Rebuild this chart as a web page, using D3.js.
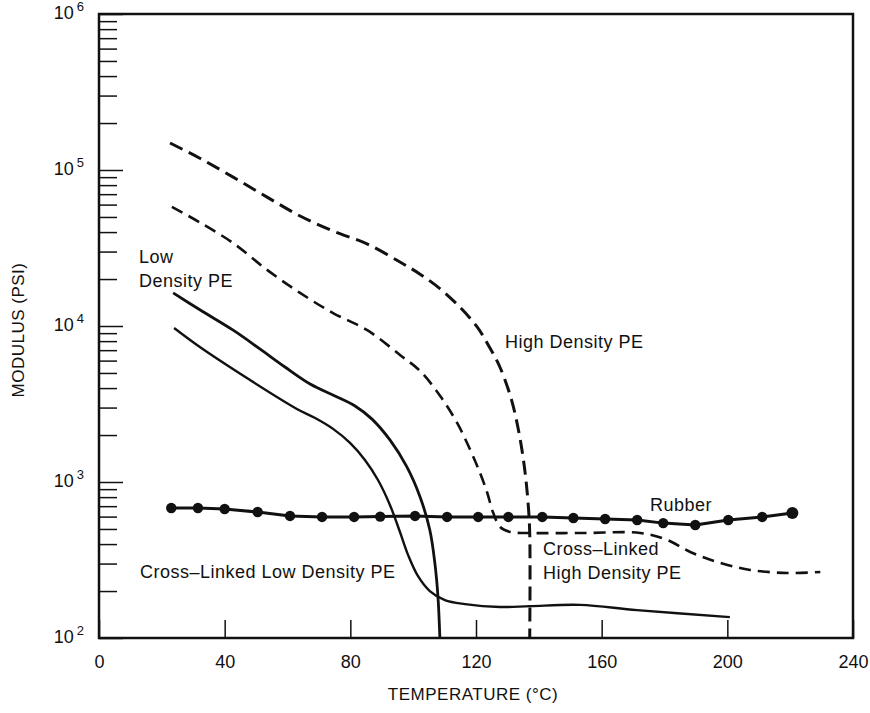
<!DOCTYPE html>
<html>
<head>
<meta charset="utf-8">
<script src="https://cdn.jsdelivr.net/npm/d3@7"></script>
<style>
  body { margin: 0; background: #fff; }
  svg { font-family: "Liberation Sans", Arial, sans-serif; }
  .label { font-size: 18px; letter-spacing: 0.5px; fill: #111; }
</style>
</head>
<body>
<svg id="chart"></svg>
<script>
// Data (temperature in deg C, modulus in psi)
var hdpeTemp = [22.6, 32.1, 42.7, 53.5, 64, 74.5, 85.3, 95.8, 102.2, 108.6, 114.9, 120.3, 123.5, 127.6, 131.3, 133.7, 135.4, 136.5, 137.1, 137.1];
var hdpeMod = [1.49e5, 1.19e5, 9.0e4, 6.7e4, 5.07e4, 4.06e4, 3.36e4, 2.57e4, 2.15e4, 1.73e4, 1.32e4, 9.9e3, 7.8e3, 5.46e3, 3.36e3, 2.06e3, 1.25e3, 768, 471, 100];

var xlHdpeTemp = [23.2, 32.2, 42.7, 53.5, 64, 74.5, 85.4, 95.9, 102.2, 108.6, 114, 118.2, 121.3, 123.6, 125.5, 127.7, 130.9, 136.3, 154, 172.3, 180.9, 188.2, 196.8, 207.3, 219.1, 229.6];
var xlHdpeMod = [5.8e4, 4.6e4, 3.4e4, 2.29e4, 1.63e4, 1.21e4, 9.4e3, 6.5e3, 5.15e3, 3.56e3, 2.39e3, 1.6e3, 1.14e3, 850, 632, 515, 478, 471, 471, 471, 425, 356, 307, 273, 261, 265];

var ldpeTemp = [23.6, 32.1, 42.7, 51.2, 59.2, 67.2, 75.1, 81.5, 86.9, 92.6, 98, 102.2, 105.3, 106.9, 107.9, 108.5];
var ldpeMod = [1.63e4, 1.27e4, 9.4e3, 7.13e3, 5.46e3, 4.25e3, 3.56e3, 3.07e3, 2.53e3, 1.86e3, 1.25e3, 802, 492, 303, 183, 100];

var xlLdpeTemp = [23.9, 32.1, 48.1, 63, 68.8, 74.5, 79.9, 84.7, 88.8, 92.6, 95.8, 98.4, 101.5, 105.3, 110.1, 116.5, 127.6, 137.2, 153.1, 171.2, 200.8];
var xlLdpeMod = [9.7e3, 7.33e3, 4.5e3, 2.94e3, 2.57e3, 2.19e3, 1.78e3, 1.38e3, 1.03e3, 713, 478, 340, 250, 200, 175, 165, 158, 160, 163, 151, 136];

var rubberTemp = [23, 31.5, 40, 50.5, 60.8, 71, 81.2, 89.5, 100.6, 110.8, 120.7, 130.3, 141.1, 151, 161.1, 171.3, 179.6, 189.8, 200.3, 211.1, 220.7];
var rubberMod = [681, 681, 671, 642, 606, 597, 597, 600, 606, 597, 597, 597, 597, 588, 579, 571, 545, 530, 571, 597, 632];

var xTicks = [0, 40, 80, 120, 160, 200, 240];
var yDecades = [1e2, 1e3, 1e4, 1e5, 1e6];

// SVG size params
var width = 870, height = 713;
var margin = {top: 14, right: 17, bottom: 75, left: 99};

var svg = d3.select("#chart")
    .attr("width", width)
    .attr("height", height);

// Scales
var x = d3.scaleLinear().domain([0, 240]).range([margin.left, width - margin.right]);
var y = d3.scaleLog().domain([1e2, 1e6]).range([height - margin.bottom, margin.top]);

// Minor y ticks 2..9 in each decade
var yMinor = [];
yDecades.slice(0, -1).forEach(function(d) {
  d3.range(2, 10).forEach(function(k) { yMinor.push(d * k); });
});

// Frame
svg.append("rect")
    .attr("x", x(0)).attr("y", y(1e6))
    .attr("width", x(240) - x(0)).attr("height", y(1e2) - y(1e6))
    .attr("fill", "none").attr("stroke", "#111").attr("stroke-width", 2.5);

// X axis, ticks pointing in
var gx = svg.append("g")
    .attr("transform", "translate(0," + y(1e2) + ")")
    .call(d3.axisBottom(x).tickValues(xTicks).tickSize(-18).tickPadding(17));
gx.select(".domain").remove();
gx.selectAll(".tick line").attr("stroke", "#111").attr("stroke-width", 1.5);
gx.selectAll(".tick text").attr("font-size", 18).attr("fill", "#111")
    .attr("font-family", "Liberation Sans, Arial, sans-serif");

// Y axis minor ticks
var gyMinor = svg.append("g")
    .attr("transform", "translate(" + x(0) + ",0)")
    .call(d3.axisLeft(y).tickValues(yMinor).tickSize(-18).tickFormat(""));
gyMinor.select(".domain").remove();
gyMinor.selectAll(".tick line").attr("stroke", "#111").attr("stroke-width", 1.5);

// Y axis decades with 10^n labels
var gy = svg.append("g")
    .attr("transform", "translate(" + x(0) + ",0)")
    .call(d3.axisLeft(y).tickValues(yDecades).tickSize(-24).tickPadding(15));
gy.select(".domain").remove();
gy.selectAll(".tick line").attr("stroke", "#111").attr("stroke-width", 1.5);
gy.selectAll(".tick text")
    .attr("font-family", "Liberation Sans, Arial, sans-serif")
    .attr("fill", "#111")
    .attr("dy", "0.42em")
    .each(function(d) {
      var t = d3.select(this).text(null);
      t.append("tspan").attr("font-size", 18).text("10");
      t.append("tspan").attr("font-size", 13).attr("dx", 3).attr("dy", "-0.6em")
        .text(Math.round(Math.log10(d)));
    });

// Line generators
function pts(ts, vs) { return ts.map(function(t, i) { return [t, vs[i]]; }); }
var smooth = d3.line()
    .x(function(d) { return x(d[0]); })
    .y(function(d) { return y(d[1]); })
    .curve(d3.curveCatmullRom.alpha(0.5));
var straight = d3.line()
    .x(function(d) { return x(d[0]); })
    .y(function(d) { return y(d[1]); });

function curve(data, gen, w, dash) {
  svg.append("path")
      .datum(data)
      .attr("d", gen)
      .attr("fill", "none")
      .attr("stroke", "#111")
      .attr("stroke-width", w)
      .attr("stroke-linejoin", "round")
      .attr("stroke-dasharray", dash || null);
}

curve(pts(hdpeTemp, hdpeMod), smooth, 3, "14,7");
curve(pts(xlHdpeTemp, xlHdpeMod), smooth, 2.6, "12,7");
curve(pts(ldpeTemp, ldpeMod), smooth, 2.8);
curve(pts(xlLdpeTemp, xlLdpeMod), smooth, 2.4);
curve(pts(rubberTemp, rubberMod), straight, 3);

// Rubber markers
svg.selectAll(".dot")
    .data(pts(rubberTemp, rubberMod))
  .enter().append("circle")
    .attr("class", "dot")
    .attr("cx", function(d) { return x(d[0]); })
    .attr("cy", function(d) { return y(d[1]); })
    .attr("r", function(d, i) { return i === rubberTemp.length - 1 ? 6 : 5.2; })
    .attr("fill", "#111");

// Curve labels
var labels = [
  {text: "Low", px: 139, py: 263},
  {text: "Density PE", px: 139, py: 287},
  {text: "High Density PE", px: 505, py: 348},
  {text: "Rubber", px: 650, py: 511},
  {text: "Cross\u2013Linked", px: 543, py: 555},
  {text: "High Density PE", px: 543, py: 579},
  {text: "Cross\u2013Linked Low Density PE", px: 140, py: 578}
];
svg.selectAll(".label")
    .data(labels)
  .enter().append("text")
    .attr("class", "label")
    .attr("x", function(d) { return d.px; })
    .attr("y", function(d) { return d.py; })
    .text(function(d) { return d.text; });

// Axis titles
svg.append("text")
    .attr("x", (x(0) + x(240)) / 2 - 3)
    .attr("y", 700)
    .attr("text-anchor", "middle")
    .attr("font-size", 17)
    .attr("letter-spacing", "0.5px")
    .attr("fill", "#111")
    .text("TEMPERATURE (\u00B0C)");

svg.append("text")
    .attr("transform", "translate(24,330) rotate(-90)")
    .attr("text-anchor", "middle")
    .attr("font-size", 17)
    .attr("letter-spacing", "0.5px")
    .attr("fill", "#111")
    .text("MODULUS (PSI)");
</script>
</body>
</html>
